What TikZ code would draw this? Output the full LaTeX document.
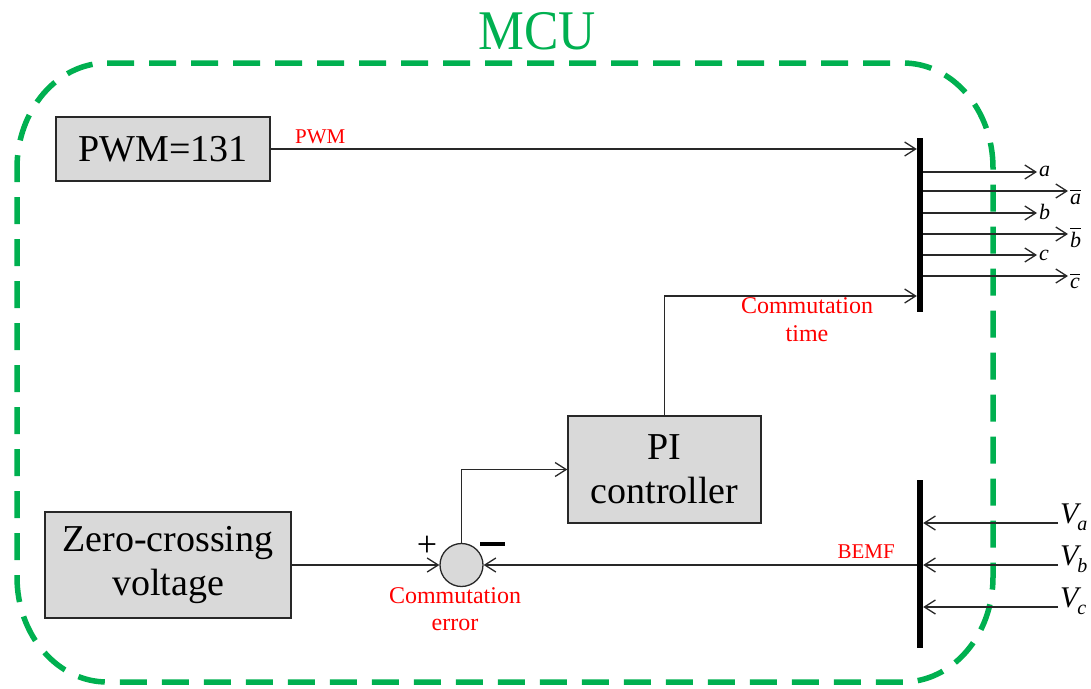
\documentclass[tikz,border=0pt]{standalone}
\usepackage{fontspec}
\usepackage{amsmath}
\setmainfont{Liberation Serif}
\usetikzlibrary{arrows.meta}
\definecolor{mcugreen}{RGB}{0,176,80}
\definecolor{boxgray}{RGB}{217,217,217}
\definecolor{wire}{RGB}{40,40,40}
\newcommand{\barred}[1]{\ensuremath{\overline{\mbox{\itshape #1}}}}
\newcommand{\phasev}[1]{\textit{V}\kern-4pt\raisebox{-7pt}{\fontsize{20}{22}\selectfont\textit{#1}}}

\begin{document}
\begin{tikzpicture}[x=1pt,y=-1pt,
  block/.style={draw=wire, line width=1.4pt, fill=boxgray, inner sep=0pt,
    align=center, font=\fontsize{38}{44}\selectfont},
  sig/.style={draw=wire, line width=1.3pt,
    -{Straight Barb[length=11pt,width=14pt,line width=1.3pt]}},
  busbar/.style={fill=black, draw=none, minimum width=6pt, inner sep=0pt},
  tag/.style={text=red, font=\fontsize{21}{24}\selectfont, inner sep=0pt},
  tagbig/.style={text=red, font=\fontsize{24}{28}\selectfont, inner sep=0pt, anchor=base},
  outlab/.style={font=\fontsize{22}{24}\selectfont, inner sep=0pt, anchor=base west},
  vlab/.style={font=\fontsize{30}{34}\selectfont, inner sep=0pt, anchor=base west},
  frame/.style={draw=mcugreen, line width=5.5pt, dash pattern=on 27pt off 15pt},
]
\useasboundingbox (0,0) rectangle (1091,688);

% MCU boundary with elliptical corners
\draw[frame] (107,63) -- (903,63)
  .. controls (952.7,63) and (993,110) .. (993,168) -- (993,577)
  .. controls (993,635) and (952.7,682) .. (903,682) -- (107,682)
  .. controls (57.3,682) and (17,635) .. (17,577) -- (17,168)
  .. controls (17,110) and (57.3,63) .. (107,63) -- cycle;
\node (mcu) at (537,31) [text=mcugreen, inner sep=0pt, xscale=0.92,
  font=\fontsize{56}{60}\selectfont] {MCU};

% blocks
\node[block, minimum width=214pt, minimum height=64pt] (pwm) at (163,149) {PWM=131};
\node[block, minimum width=193pt, minimum height=107pt] (pi) at (664.5,469.5) {PI\\controller};
\node[block, minimum width=246pt, minimum height=106pt] (zero) at (168,565) {Zero-crossing\\voltage};
\node[circle, draw=wire, line width=1.3pt, fill=boxgray, minimum size=43pt, inner sep=0pt] (sum) at (461.5,565) {};

% bus bars
\node[busbar, minimum height=174pt] (topbar) at (920,225) {};
\node[busbar, minimum height=168pt] (botbar) at (920,564) {};

% signals into the upper bar
\draw[sig] (pwm.east) -- (pwm.east -| topbar.west);
\node[tag, anchor=base west] (pwmtag) at (295,143) {PWM};
\coordinate (ctin) at (topbar.west |- 0,296);
\draw[sig] (pi.north) |- (ctin);
\node[tagbig] (ct1) at (807,313) {Commutation};
\node[tagbig] (ct2) at (807,341) {time};

% switching outputs
\foreach \y/\xe/\dy/\lab [count=\i] in
  {172/1037/4/{\textit{a}}, 191/1068/13/{\barred{a}},
   213/1037/6/{\textit{b}}, 234/1068/13/{\barred{b}},
   255/1037/5/{\textit{c}}, 276/1068/12/{\barred{c}}}{
  \coordinate (out\i) at (\xe,\y);
  \draw[sig] (topbar.east |- out\i) -- (out\i);
  \node[outlab] (olab\i) at (\xe+2,\y+\dy) {\lab};
}

% phase voltages into the lower bar
\foreach \y/\ph [count=\i] in {523/a, 565/b, 607/c}{
  \coordinate (vin\i) at (1058,\y);
  \draw[sig] (vin\i) -- (vin\i -| botbar.east);
  \node[vlab] (vlab\i) at (1060,\y) {\phasev{\ph}};
}

% error loop
\draw[sig] (zero.east) -- (sum.west);
\draw[sig] (botbar.west |- sum) -- (sum.east);
\node[tag, anchor=base east] (bemf) at (895,558) {BEMF};
\draw[sig] (sum.north) |- (pi.west);
\node[inner sep=0pt, font=\fontsize{36}{40}\selectfont] (plus) at (427,546) {+};
\node[inner sep=0pt, fill=black, minimum width=25pt, minimum height=4.5pt] (minus) at (492.5,544) {};
\node[tagbig] (ce1) at (455,603) {Commutation};
\node[tagbig] (ce2) at (455,630) {error};
\end{tikzpicture}
\end{document}
